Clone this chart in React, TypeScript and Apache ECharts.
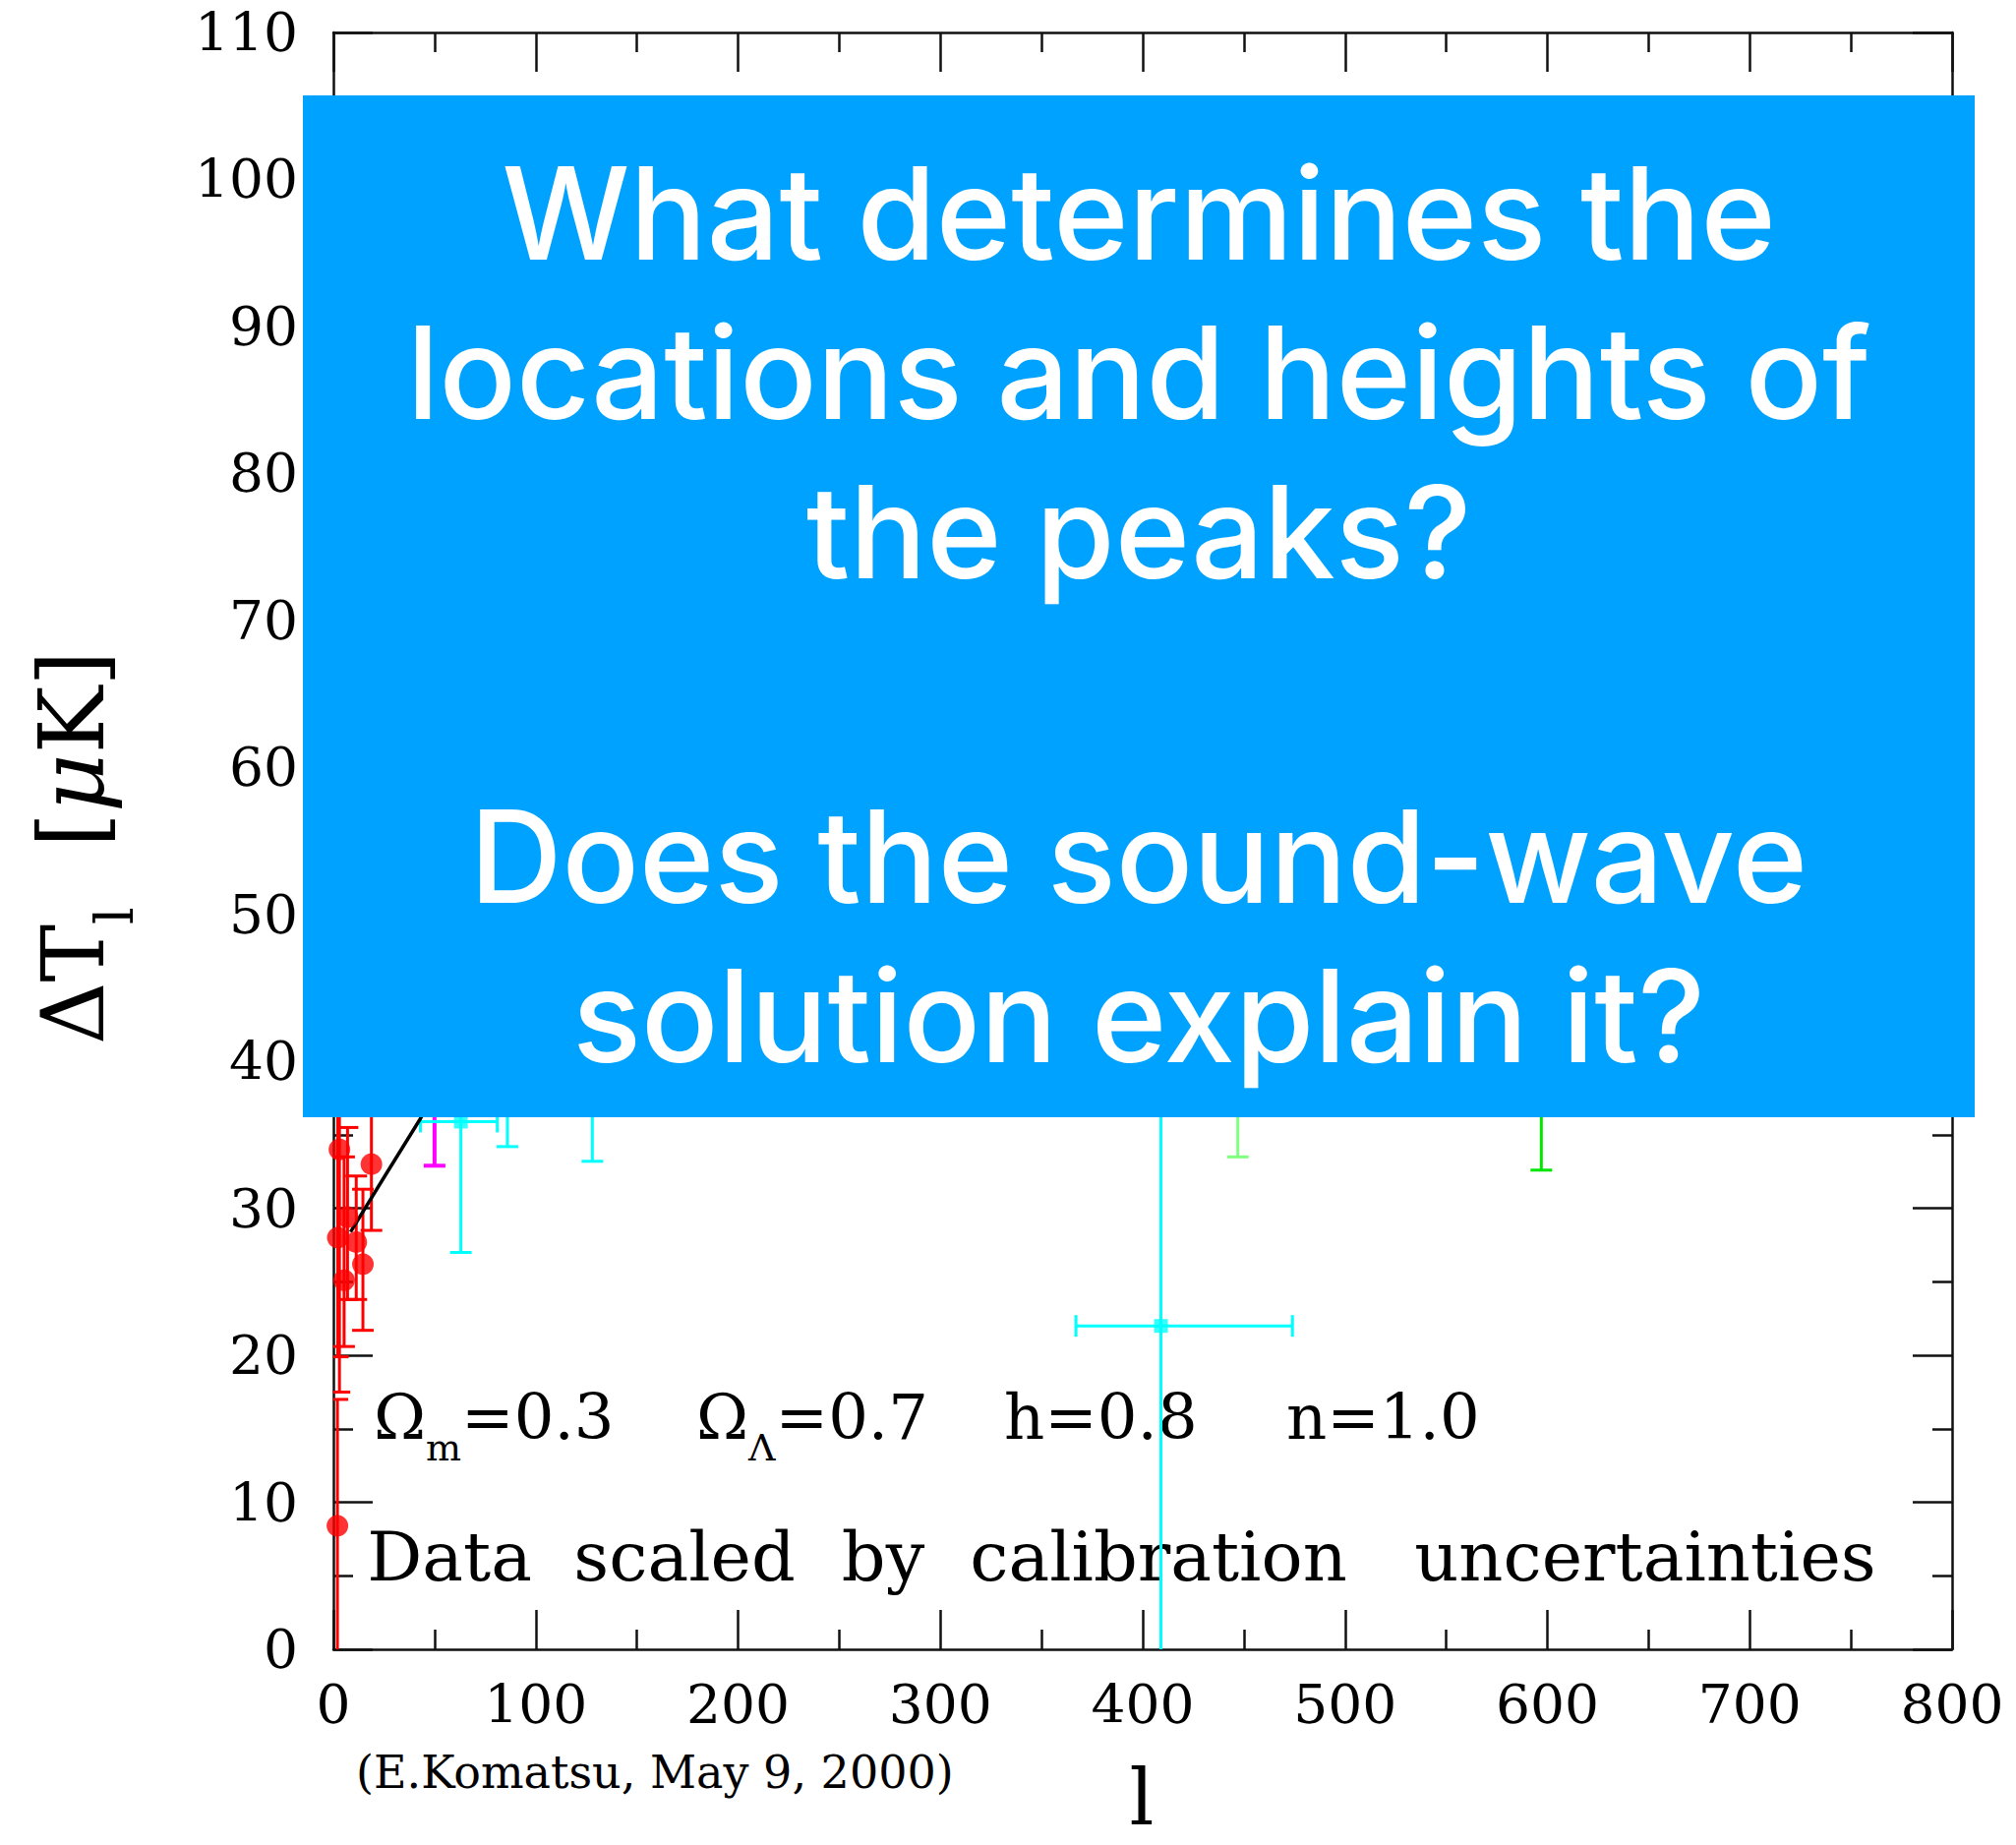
import React, { useEffect, useRef } from "react";
import * as echarts from "echarts";

// ---- axis ranges & ticks ----
const xRange = { min: 0, max: 800, interval: 100 };
const yRange = { min: 0, max: 110, interval: 10 };

// ---- theory curve (l, ΔT_l) ----
const theoryL = [8.5, 25, 43, 60, 100, 150, 200, 230, 260, 300, 350, 400, 450, 500, 540, 600, 650, 700, 750, 800];
const theoryT = [28.4, 32.1, 36.1, 40, 50, 63, 73, 76, 73, 62, 48, 41, 44, 49, 50, 46, 42, 43, 46, 47];

// ---- data points: [l, value, lowerEnd, upperEnd, lMin, lMax] ----
const redData = [
  [2, 8.4, -10, 17.0, 2, 2],
  [2.2, 28.0, 19.9, 36.8, 2.2, 2.2],
  [3, 34.0, 17.5, 50, 3, 3],
  [5.3, 25.1, 20.6, 33.5, 5.3, 5.3],
  [7, 29.4, 23.8, 35.5, 7, 7],
  [11.3, 27.7, 23.8, 32.2, 11.3, 11.3],
  [14.6, 26.2, 21.7, 31.3, 14.6, 14.6],
  [18.8, 33.0, 28.5, 38.5, 18.8, 18.8],
];
const magentaData = [[50, 41, 32.9, 49, 50, 50]];
const cyanData = [
  [63, 35.9, 27.0, 45, 43, 81],
  [86, 42, 34.2, 50, 86, 86],
  [128, 46, 33.2, 58, 128, 128],
  [409, 22.0, -30, 74, 367, 474],
];
const lightGreenData = [[447, 43, 33.5, 52, 447, 447]];
const greenData = [[597, 45, 32.6, 57, 597, 597]];

// ---- annotation words ----
const paramTexts = ["Ω{s|m}=0.3", "Ω{s|Λ}=0.7", "h=0.8", "n=1.0"];
const noteWords = ["Data", "scaled", "by", "calibration", "uncertainties"];

const SERIF = "'DejaVu Serif', serif";

function errorBar(color: string, width: number, capHalf: number) {
  return (_params: any, api: any) => {
    const l = api.value(0);
    const v = api.value(1);
    const lo = api.value(2);
    const hi = api.value(3);
    const lmin = api.value(4);
    const lmax = api.value(5);
    const pLo = api.coord([l, lo]);
    const pHi = api.coord([l, hi]);
    const st = { stroke: color, lineWidth: width };
    const children: any[] = [
      { type: "line", shape: { x1: pLo[0], y1: pLo[1], x2: pHi[0], y2: pHi[1] }, style: st },
      { type: "line", shape: { x1: pLo[0] - capHalf, y1: pLo[1], x2: pLo[0] + capHalf, y2: pLo[1] }, style: st },
      { type: "line", shape: { x1: pHi[0] - capHalf, y1: pHi[1], x2: pHi[0] + capHalf, y2: pHi[1] }, style: st },
    ];
    if (lmax > lmin) {
      const a = api.coord([lmin, v]);
      const b = api.coord([lmax, v]);
      children.push(
        { type: "line", shape: { x1: a[0], y1: a[1], x2: b[0], y2: b[1] }, style: st },
        { type: "line", shape: { x1: a[0], y1: a[1] - capHalf, x2: a[0], y2: a[1] + capHalf }, style: st },
        { type: "line", shape: { x1: b[0], y1: b[1] - capHalf, x2: b[0], y2: b[1] + capHalf }, style: st }
      );
    }
    return { type: "group", children };
  };
}

function errSeries(name: string, data: number[][], color: string, width: number) {
  return {
    name,
    type: "custom",
    clip: true,
    renderItem: errorBar(color, width, 11),
    encode: { x: 0, y: 1 },
    data,
    z: 3,
  };
}

function ptSeries(name: string, data: number[][], color: string, symbol: string, size: number) {
  return {
    name: name + "-pts",
    type: "scatter",
    data: data.map((d) => [d[0], d[1]]),
    symbol,
    symbolSize: size,
    itemStyle: { color },
    clip: true,
    z: 5,
  };
}

const axisCommon = (showLabel: boolean, margin: number) => ({
  axisLine: { show: true, onZero: false, lineStyle: { color: "#111", width: 2.5 } },
  axisTick: { show: true, inside: true, length: 40, lineStyle: { color: "#111", width: 2.5 } },
  minorTick: { show: true, splitNumber: 2, length: 20, lineStyle: { color: "#111", width: 2.5 } },
  splitLine: { show: false },
  axisLabel: { show: showLabel, margin, color: "#000", fontFamily: SERIF, fontSize: 55 },
});

export default function App() {
  const ref = useRef<HTMLDivElement>(null);
  useEffect(() => {
    if (!ref.current) return;
    const chart = echarts.init(ref.current, undefined, { renderer: "svg" });
    const t = (text: string, x: number, yMid: number, size: number, extra: any = {}) => ({
      type: "text",
      x,
      y: yMid,
      z: 0,
      style: { text, fill: "#000", font: `${size}px ${SERIF}`, align: "left", verticalAlign: "middle", ...extra },
    });
    const f1 = 64;
    const mainB = 1463; // baseline of parameter line
    const paramX = [380, 708, 1021, 1308];
    const noteCx = [457, 696, 898, 1178, 1673];
    const fn = 70;
    const noteB = 1607;
    const subRich = { s: { fontSize: 38, fontFamily: SERIF, lineHeight: 38, padding: [62, 0, 0, 0], fill: "#000" } };
    chart.setOption({
      animation: false,
      backgroundColor: "#fff",
      grid: { left: 339, top: 33, width: 1646, height: 1644, containLabel: false },
      xAxis: [
        { type: "value", position: "bottom", min: xRange.min, max: xRange.max, interval: xRange.interval, ...axisCommon(true, 28) },
        { type: "value", position: "top", min: xRange.min, max: xRange.max, interval: xRange.interval, ...axisCommon(false, 0) },
      ],
      yAxis: [
        { type: "value", position: "left", min: yRange.min, max: yRange.max, interval: yRange.interval, ...axisCommon(true, 36) },
        { type: "value", position: "right", min: yRange.min, max: yRange.max, interval: yRange.interval, ...axisCommon(false, 0) },
      ],
      series: [
        errSeries("red", redData, "#ff0000", 3),
        errSeries("magenta", magentaData, "#ff00ff", 4),
        errSeries("cyan", cyanData, "#00ffff", 3),
        errSeries("lightgreen", lightGreenData, "#80ff80", 3),
        errSeries("green", greenData, "#00e600", 3),
        {
          name: "theory",
          type: "line",
          data: theoryL.map((l, i) => [l, theoryT[i]]),
          showSymbol: false,
          lineStyle: { color: "#000", width: 3.5 },
          z: 4,
          clip: true,
        },
        ptSeries("red", redData, "#ff0000", "circle", 22),
        ptSeries("cyan", cyanData, "#00ffff", "rect", 14),
      ],
      graphic: [
        // parameter annotation
        ...paramTexts.map((s, i) => t(s, paramX[i], mainB - 0.346 * f1, f1, { rich: subRich })),
        ...noteWords.map((w, i) => t(w, noteCx[i], noteB - 0.346 * fn, fn, { align: "center" })),
        // credit
        t("(E.Komatsu, May 9, 2000)", 362, 1818 - 0.346 * 46, 46),
        // x axis title
        t("l", 1161, 1855 - 0.346 * 78, 78, { align: "center" }),
        // y axis title
        {
          type: "group",
          x: 105,
          y: 1062,
          rotation: Math.PI / 2,
          children: [
            { type: "text", x: 0, y: -0.346 * 88, style: { text: "ΔT", fill: "#000", font: `88px ${SERIF}`, align: "left", verticalAlign: "middle" } },
            { type: "text", x: 122, y: 30 - 0.346 * 55, style: { text: "l", fill: "#000", font: `55px ${SERIF}`, align: "left", verticalAlign: "middle" } },
            {
              type: "text",
              x: 200,
              y: -0.346 * 92,
              style: {
                text: "[{i|μ}K]",
                fill: "#000",
                font: `92px ${SERIF}`,
                align: "left",
                verticalAlign: "middle",
                rich: { i: { fontStyle: "italic", fontFamily: SERIF, fontSize: 92, fill: "#000" } },
              },
            },
          ],
        },
        // overlay box
        {
          type: "rect",
          z: 100,
          shape: { x: 308, y: 97, width: 1700, height: 1039 },
          style: { fill: "#00a2ff" },
        },
        {
          type: "text",
          z: 101,
          x: 1158,
          y: 135,
          style: {
            text: "What determines the\nlocations and heights of\nthe peaks?",
            fill: "#fff",
            font: "500 130px Inter, 'Liberation Sans', sans-serif",
            lineHeight: 162,
            align: "center",
            verticalAlign: "top",
          },
        },
        {
          type: "text",
          z: 101,
          x: 1158,
          y: 789,
          style: {
            text: "Does the sound-wave\nsolution explain it?",
            fill: "#fff",
            font: "500 130px Inter, 'Liberation Sans', sans-serif",
            lineHeight: 162,
            align: "center",
            verticalAlign: "top",
          },
        },
      ],
    });
    return () => chart.dispose();
  }, []);
  return <div ref={ref} style={{ position: "absolute", left: 0, top: 0, width: 2050, height: 1876 }} />;
}
